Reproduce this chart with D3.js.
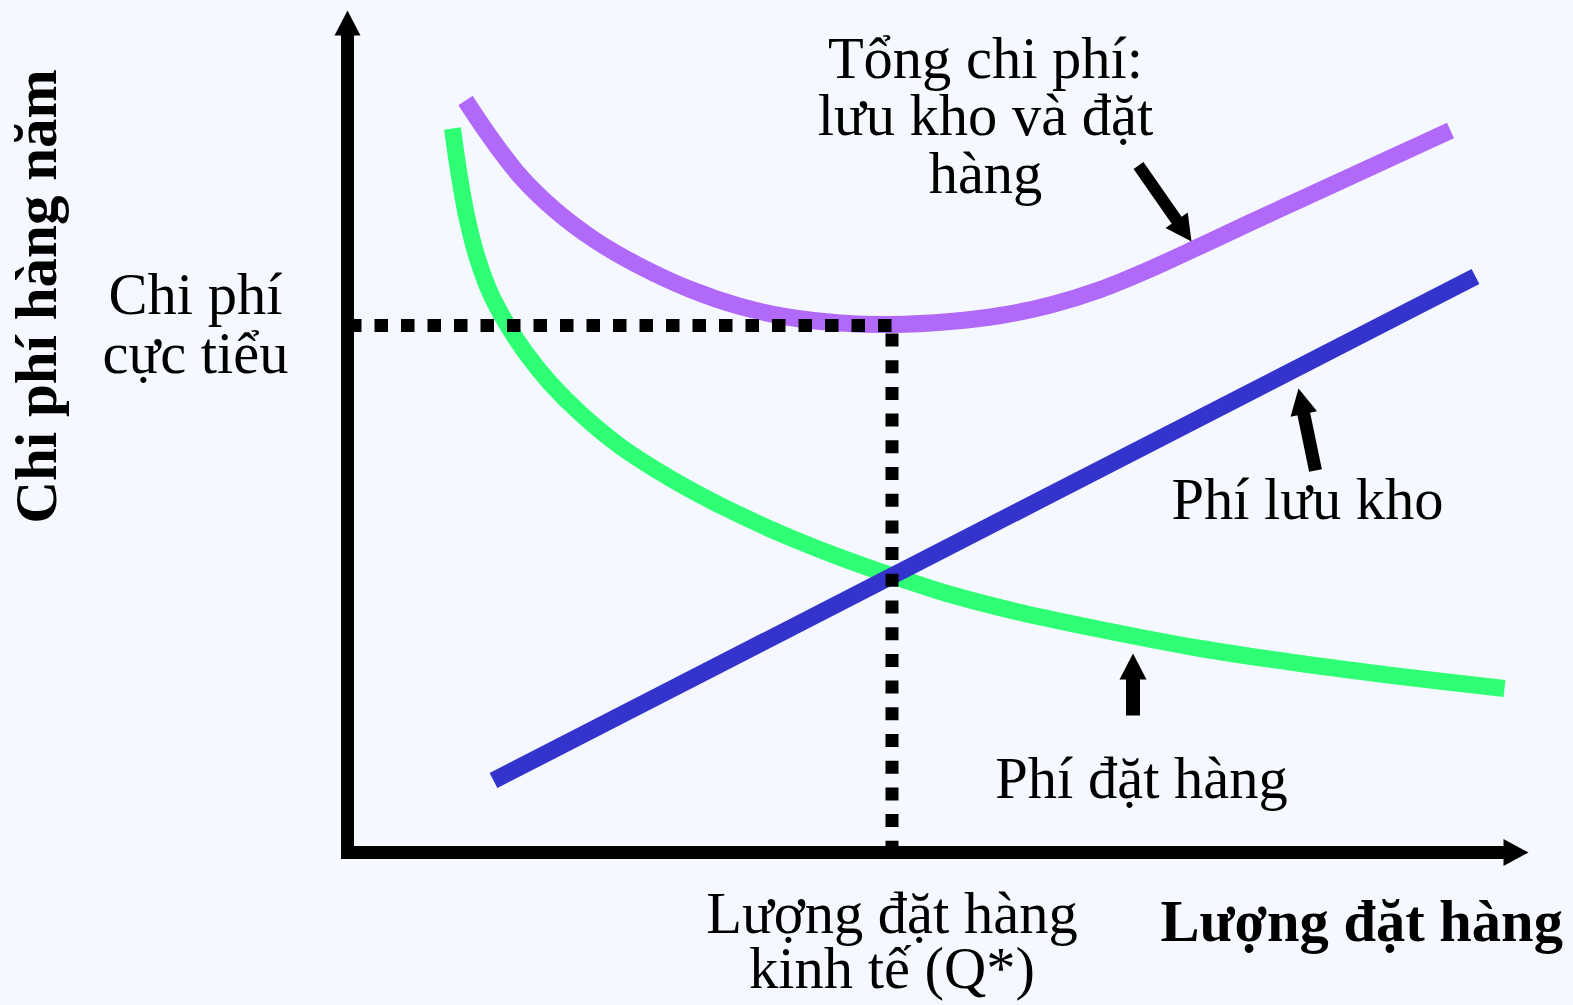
<!DOCTYPE html>
<html>
<head>
<meta charset="utf-8">
<script src="https://cdn.jsdelivr.net/npm/d3@7"></script>
<style>
  body { margin: 0; background: #f5f9ff; }
  svg { display: block; font-family: "Liberation Serif", "Times New Roman", serif; }
</style>
</head>
<body>
<script>
// ----- data (arbitrary units) -----
var totalQ    = [11.8, 14.3, 17.3, 20.8, 24.8, 29.3, 34.3, 39.3, 44.3, 49.3, 54.3, 60.3, 65.3, 70.3, 75.3, 80.3, 85.3, 90.3, 95.3, 100.3, 105.3, 110.3];
var totalCost = [75.2, 71.5, 67.6, 64.2, 61.2, 58.6, 56.3, 54.6, 53.5, 52.95, 52.8, 53.1, 53.7, 54.75, 56.3, 58.35, 60.65, 63.0, 65.3, 67.6, 69.9, 72.2];

var orderQ    = [10.5, 11.1, 11.9, 13.0, 14.3, 15.9, 17.8, 20.3, 23.3, 27.3, 32.3, 37.3, 43.3, 49.3, 54.1, 60.3, 67.3, 75.3, 85.3, 95.3, 105.3, 115.7];
var orderCost = [72.4, 68.2, 63.7, 59.4, 55.9, 52.9, 50.0, 46.9, 43.9, 40.6, 37.4, 34.7, 31.9, 29.5, 27.8, 25.8, 24.0, 22.3, 20.4, 18.9, 17.6, 16.4];

var holdQ    = [14.6, 112.8];
var holdCost = [7.2, 57.6];

var optQ = 54.45;     // Q*
var minCost = 52.7;   // chi phí cực tiểu

var colors = { total: "#b169f9", order: "#2fff75", hold: "#3434cc", ink: "#000" };

// ----- config -----
var W = 1573, H = 1005;
var x = d3.scaleLinear().domain([0, 118.1]).range([347.5, 1528.5]);
var y = d3.scaleLinear().domain([0, 84.2]).range([852.5, 10.5]);

var svg = d3.select("body").append("svg")
  .attr("width", W).attr("height", H);

svg.append("rect").attr("width", W).attr("height", H).attr("fill", "#f5f9ff");

// arrow = shaft line + triangular head
function arrow(g, x1, y1, x2, y2, w, hw, hl, cap) {
  var dx = x2 - x1, dy = y2 - y1, len = Math.sqrt(dx * dx + dy * dy);
  var ux = dx / len, uy = dy / len, nx = -uy, ny = ux;
  var bx = x2 - ux * hl, by = y2 - uy * hl;
  g.append("line")
    .attr("x1", x1).attr("y1", y1).attr("x2", bx + ux).attr("y2", by + uy)
    .attr("stroke", colors.ink).attr("stroke-width", w)
    .attr("stroke-linecap", cap || "butt");
  g.append("polygon")
    .attr("points", [[x2, y2], [bx + nx * hw / 2, by + ny * hw / 2], [bx - nx * hw / 2, by - ny * hw / 2]].join(" "))
    .attr("fill", colors.ink);
}

// ----- curves -----
var curve = d3.line().x(d => x(d[0])).y(d => y(d[1])).curve(d3.curveCatmullRom.alpha(0.5));

svg.append("path")
  .attr("d", curve(d3.zip(orderQ, orderCost)))
  .attr("fill", "none").attr("stroke", colors.order).attr("stroke-width", 17);

svg.append("path")
  .attr("d", d3.line().x(d => x(d[0])).y(d => y(d[1]))(d3.zip(holdQ, holdCost)))
  .attr("fill", "none").attr("stroke", colors.hold).attr("stroke-width", 17);

svg.append("path")
  .attr("d", curve(d3.zip(totalQ, totalCost)))
  .attr("fill", "none").attr("stroke", colors.total).attr("stroke-width", 17);

// ----- dotted guides (on top of the curves) -----
svg.append("line")
  .attr("x1", x(0.05)).attr("x2", x(optQ)).attr("y1", y(minCost)).attr("y2", y(minCost))
  .attr("stroke", colors.ink).attr("stroke-width", 13).attr("stroke-dasharray", "13.5 13");
svg.append("line")
  .attr("x1", x(optQ)).attr("x2", x(optQ)).attr("y1", y(minCost) + 8).attr("y2", y(0))
  .attr("stroke", colors.ink).attr("stroke-width", 13).attr("stroke-dasharray", "13 13.7");

// ----- axes -----
var axes = svg.append("g");
arrow(axes, x(0), y(0), x(0), y.range()[1], 13, 26, 25, "square");
arrow(axes, x(0), y(0), x.range()[1], y(0), 13, 27, 25, "square");

// ----- annotation arrows -----
var notes = svg.append("g");
arrow(notes, x(79.1), y(68.7), x(84.4), y(61.1), 12, 27, 26);
arrow(notes, x(96.8), y(38.2), x(95.1), y(46.4), 13, 27, 26);
arrow(notes, x(78.55), y(13.7), x(78.55), y(19.9), 14, 27, 26);

// ----- text -----
var txt = svg.append("g").attr("fill", colors.ink).attr("font-size", 58.5);

function label(lines, qx, cy, step, anchor, weight) {
  lines.forEach(function (s, i) {
    txt.append("text")
      .attr("x", x(qx)).attr("y", y(cy) + i * step)
      .attr("text-anchor", anchor || "middle")
      .attr("font-weight", weight || "normal")
      .text(s);
  });
}

label(["Tổng chi phí:", "lưu kho và đặt", "hàng"], 63.8, 77.5, 57.5);
label(["Phí lưu kho"], 96.0, 33.4, 0);
label(["Phí đặt hàng"], 79.4, 5.5, 0);
label(["Chi phí", "cực tiểu"], -15.2, 53.9, 59);
label(["Lượng đặt hàng", "kinh tế (Q*)"], optQ, -8.0, 55);
label(["Lượng đặt hàng"], 81.3, -8.8, 0, "start", "bold");

txt.append("text")
  .attr("transform", "translate(" + x(-29.2) + "," + y(55.6) + ") rotate(-90)")
  .attr("text-anchor", "middle").attr("font-weight", "bold").attr("font-size", 59)
  .text("Chi phí hàng năm");
</script>
</body>
</html>
